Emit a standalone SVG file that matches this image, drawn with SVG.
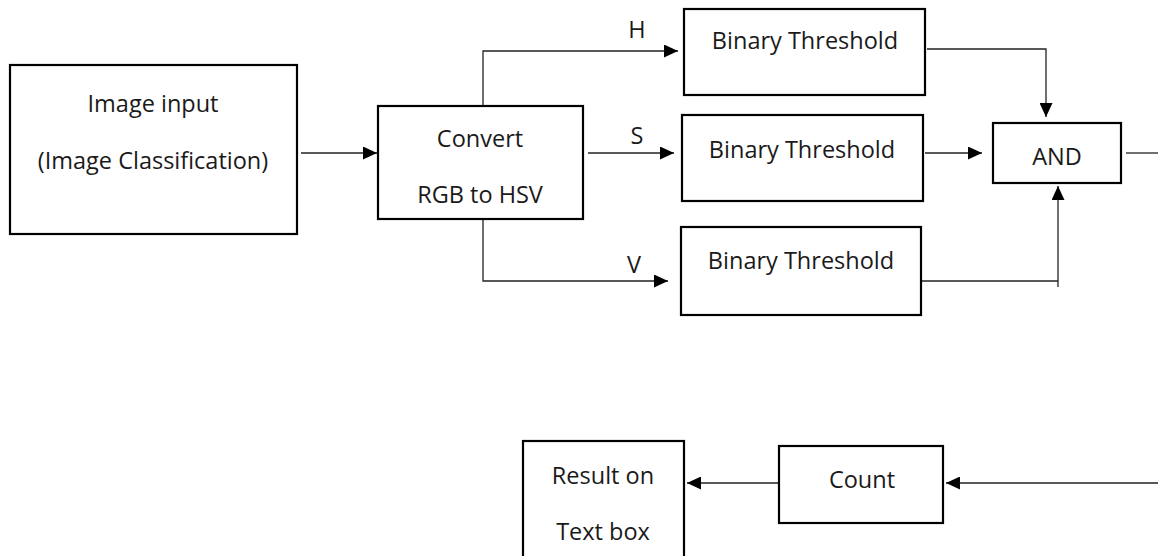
<svg xmlns="http://www.w3.org/2000/svg" width="1158" height="556" viewBox="0 0 1158 556">
  <style>
    .box { fill: #ffffff; stroke: #000000; stroke-width: 2.2; }
    .lbl { font-family: "Open Sans", "Noto Sans", sans-serif; font-size: 23.5px; fill: #1a1a1a; text-anchor: middle; }
    .wire { fill: none; stroke: #222222; stroke-width: 1.3; }
    .arr { marker-end: url(#head); }
  </style>
  <defs>
    <marker id="head" markerUnits="userSpaceOnUse" markerWidth="15" markerHeight="13" refX="14" refY="6.5" orient="auto">
      <path d="M0,0 L14,6.5 L0,13 Z" fill="#000000"/>
    </marker>
  </defs>
  <rect width="1158" height="556" fill="#ffffff"/>

  <g id="connectors">
    <!-- input to converter -->
    <path class="wire arr" d="M301,153 H377"/>
    <!-- H channel -->
    <path class="wire arr" d="M483,106 V51 H678"/>
    <!-- S channel -->
    <path class="wire arr" d="M588,153 H674"/>
    <!-- V channel -->
    <path class="wire arr" d="M483,219 V281 H668"/>
    <!-- thresholds to AND -->
    <path class="wire arr" d="M927,49 H1046 V117"/>
    <path class="wire arr" d="M925,153 H982"/>
    <path class="wire" d="M922,281 H1058"/>
    <path class="wire arr" d="M1058,287 V186"/>
    <!-- AND output -->
    <path class="wire" d="M1126,153 H1158"/>
    <!-- into Count and result -->
    <path class="wire arr" d="M1158,483 H946"/>
    <path class="wire arr" d="M781,483 H687"/>
  </g>

  <g id="image-input">
    <rect class="box" x="10" y="65" width="287" height="169"/>
    <text class="lbl" x="153" y="112">Image input</text>
    <text class="lbl" x="153" y="169">(Image Classification)</text>
  </g>

  <g id="convert">
    <rect class="box" x="378" y="106" width="205" height="113"/>
    <text class="lbl" x="480" y="147">Convert</text>
    <text class="lbl" x="480" y="203">RGB to HSV</text>
  </g>

  <g id="label-h"><text class="lbl" x="637" y="38">H</text></g>
  <g id="label-s"><text class="lbl" x="637" y="144">S</text></g>
  <g id="label-v"><text class="lbl" x="634" y="273">V</text></g>

  <g id="threshold-h">
    <rect class="box" x="684" y="9" width="241" height="86"/>
    <text class="lbl" x="805" y="49">Binary Threshold</text>
  </g>

  <g id="threshold-s">
    <rect class="box" x="682" y="115" width="241" height="86"/>
    <text class="lbl" x="802" y="158">Binary Threshold</text>
  </g>

  <g id="threshold-v">
    <rect class="box" x="681" y="227" width="240" height="88"/>
    <text class="lbl" x="801" y="269">Binary Threshold</text>
  </g>

  <g id="and">
    <rect class="box" x="993" y="123" width="128" height="60"/>
    <text class="lbl" x="1057" y="165">AND</text>
  </g>

  <g id="count">
    <rect class="box" x="779" y="446" width="164" height="77"/>
    <text class="lbl" x="862" y="488">Count</text>
  </g>

  <g id="result">
    <rect class="box" x="523" y="441" width="161" height="130"/>
    <text class="lbl" x="603" y="484">Result on</text>
    <text class="lbl" x="603" y="540">Text box</text>
  </g>
</svg>
